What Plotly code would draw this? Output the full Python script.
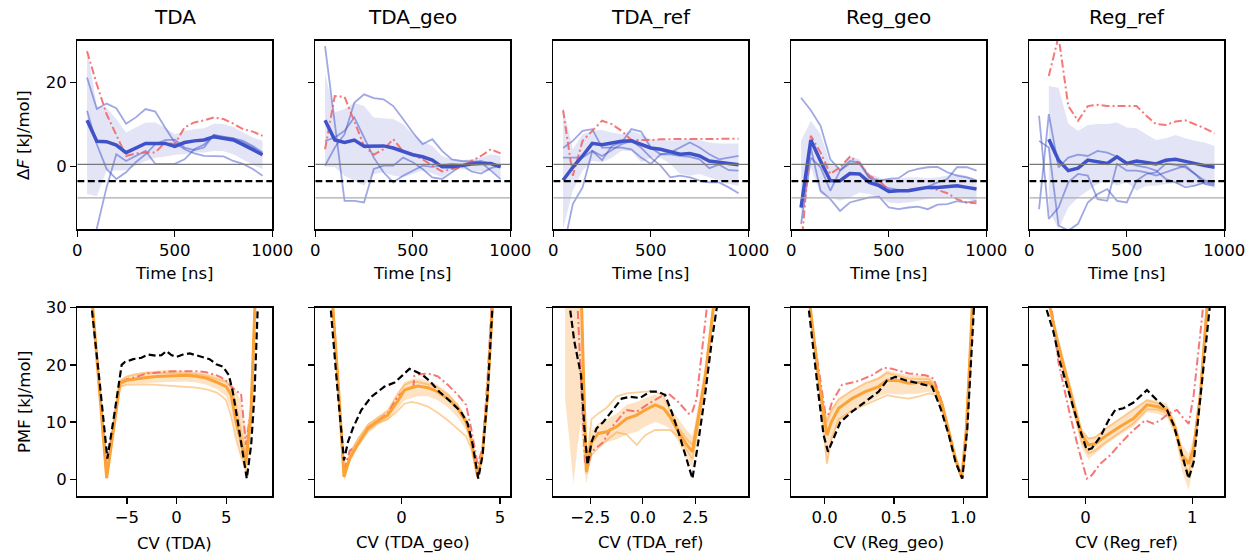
import plotly.graph_objects as go

# ---------------- data: top row (Delta F vs time) ----------------
TIME = [50, 100, 150, 200, 250, 300, 350, 400, 450, 500, 550, 600, 650, 700, 750, 800, 850, 900, 950]
DF_REF = -3.5
DF_TOL = 4.0

T1_MEAN = [11.0, 6.0, 5.9, 5.1, 3.3, 4.5, 5.5, 5.5, 5.5, 4.8, 5.7, 6.1, 6.3, 7.1, 6.7, 6.3, 5.2, 3.9, 2.8]
T1_UP = [28.3, 14.4, 14.0, 11.3, 8.1, 9.3, 10.5, 10.5, 9.3, 7.7, 8.5, 8.9, 9.1, 10.2, 10.1, 9.4, 8.1, 6.9, 6.1]
T1_LO = [-6.6, -7.1, -1.0, -1.0, -0.9, 0.2, 1.3, 2.1, 2.3, 2.8, 2.9, 3.3, 3.3, 3.7, 3.6, 2.9, 1.7, 0.4, -0.6]
T1_A = [21.2, 13.7, 15.0, 13.9, 10.2, 11.7, 13.7, 13.1, 9.3, 5.7, 4.1, 3.1, 2.5, 2.5, 2.4, 1.3, 0.6, -0.6, -2.2]
T1_B = [13.3, 5.3, -0.6, -3.0, -1.4, 1.0, 2.9, 5.3, 6.3, 6.4, 4.5, 3.9, 4.5, 7.5, 6.9, 6.7, 5.7, 4.5, 2.9]
T1_C = [-30.0, -14.8, -5.0, 2.9, 1.3, 2.5, 3.7, 0.6, 0.6, 0.6, 1.7, 4.1, 5.2, 7.5, 7.1, 6.7, 6.1, 4.9, 3.3]
T1_RED = [27.5, 19.6, 12.5, 7.7, 2.5, 3.1, 3.3, 3.3, 5.7, 5.3, 9.3, 10.5, 11.0, 11.7, 11.3, 10.2, 8.9, 8.3, 7.3]

T2_MEAN = [11.0, 6.3, 5.7, 6.3, 4.8, 4.8, 4.9, 4.4, 3.6, 2.8, 2.3, 1.5, -0.1, -0.1, 0.2, 0.6, 0.7, 0.7, -0.1]
T2_UP = [22.0, 12.9, 13.7, 15.2, 14.4, 11.7, 11.5, 11.3, 10.1, 7.7, 6.0, 4.9, 2.5, 1.7, 1.5, 1.7, 2.1, 2.9, 2.5]
T2_LO = [-0.1, -0.2, -2.2, -3.4, -4.6, -1.8, -1.4, -2.2, -2.6, -1.8, -0.9, -1.7, -2.5, -1.0, -0.6, -1.0, -1.2, -1.0, -2.5]
T2_A = [28.7, 10.5, -8.2, -8.2, -8.6, -0.6, 0.2, 0.2, 2.1, 1.0, -0.6, -2.6, -3.0, -1.4, 0.2, 1.0, 1.3, 0.6, -0.2]
T2_B = [0.2, 4.5, 7.7, 15.2, 17.2, 16.3, 16.0, 14.4, 11.3, 8.1, 5.3, 6.5, 3.7, 1.7, 1.3, 1.2, 1.0, -1.0, -3.0]
T2_C = [6.1, 6.9, 8.5, 11.7, 6.9, 2.1, -1.4, -3.8, -2.2, -0.9, 0.2, -0.1, 0.2, 0.6, 0.4, -1.2, -1.7, -0.4, 0.2]
T2_RED = [4.1, 16.8, 16.6, 10.5, 4.9, 2.8, 4.1, 6.5, 3.6, 2.8, 1.7, 0.2, -1.2, -0.6, -0.2, 1.3, 2.5, 4.1, 3.1]

T3_MEAN = [-3.3, -0.2, 2.5, 5.5, 5.2, 5.7, 6.0, 6.1, 5.2, 4.4, 4.1, 3.6, 2.9, 3.1, 2.5, 1.3, 1.0, 0.7, 0.4]
T3_UP = [14.4, 4.1, 7.7, 8.5, 8.7, 8.1, 7.7, 8.5, 7.7, 6.5, 6.3, 6.1, 6.3, 6.5, 6.3, 5.7, 5.5, 5.5, 5.5]
T3_LO = [-14.9, -5.8, -1.0, 1.3, 1.0, 2.1, 3.7, 3.7, 1.0, 2.1, 2.1, 0.6, -1.8, -2.2, -1.8, -2.6, -3.4, -4.2, -4.6]
T3_A = [4.4, 6.1, 8.5, 8.9, 4.5, 4.5, 4.5, 4.1, 2.1, 0.6, 2.9, 3.3, 4.5, 5.7, 4.5, 2.9, 1.7, 2.1, 2.5]
T3_B = [2.1, 2.1, 2.1, 3.7, 1.5, 4.9, 5.7, 8.9, 8.3, 4.5, 2.9, 2.9, 2.5, 2.3, 1.7, -0.4, 0.4, -0.9, -1.0]
T3_C = [-20.0, -9.0, -5.0, 3.7, 2.5, 4.0, 5.3, 6.1, 4.5, 2.1, 0.2, -2.6, -2.2, -2.6, -3.4, -3.8, -3.8, -5.0, -6.4]
T3_RED = [13.4, -2.2, 6.1, 8.5, 10.9, 10.1, 8.5, 6.3, 6.3, 6.3, 6.5, 6.5, 6.5, 6.6, 6.6, 6.6, 6.6, 6.6, 6.6]

T4_MEAN = [-9.8, 6.3, 1.3, -3.4, -3.4, -1.7, -1.8, -3.8, -4.6, -6.0, -5.8, -5.8, -5.4, -5.0, -5.0, -4.8, -4.6, -5.0, -5.4]
T4_UP = [6.1, 10.9, 7.7, 0.6, -0.2, 2.5, 1.7, -1.8, -2.6, -3.4, -3.0, -2.6, -2.6, -2.8, -2.6, -2.2, -1.8, -2.2, -3.0]
T4_LO = [-14.9, -0.2, -6.6, -7.4, -8.2, -7.4, -6.2, -6.6, -7.4, -8.6, -8.8, -8.6, -8.2, -7.8, -7.4, -7.5, -7.4, -7.8, -8.2]
T4_A = [16.4, 13.4, 9.7, 1.7, -0.9, 1.3, 1.0, -2.6, -3.4, -3.0, -2.8, -1.2, -0.6, -0.2, -0.1, -1.4, -2.2, -2.6, -3.4]
T4_B = [-9.8, 4.5, -5.8, -7.8, -10.6, -8.6, -8.0, -7.4, -7.2, -9.8, -10.2, -9.8, -9.6, -10.2, -9.1, -9.0, -8.3, -8.6, -8.2]
T4_C = [-13.7, 2.1, -0.2, -5.8, -1.0, 0.7, 0.7, -2.8, -4.2, -5.2, -5.6, -5.6, -5.4, -4.8, -3.8, -3.0, -0.2, -0.2, -1.0]
T4_RED = [-20.0, 7.3, 3.3, -1.8, -0.2, 2.3, 0.7, -2.2, -3.4, -5.6, -5.6, -5.6, -5.4, -5.0, -5.6, -6.4, -7.8, -8.6, -8.8]

T5_MEAN = [None, 6.5, 1.5, -1.0, -0.4, 1.5, 1.0, 0.7, 2.3, 0.7, 1.3, 1.0, 0.6, 1.5, 1.7, 1.2, 0.6, 0.2, -0.2]
T5_UP = [None, 19.2, 18.8, 10.2, 8.5, 9.9, 10.1, 10.1, 10.5, 9.3, 9.1, 7.7, 6.3, 6.7, 7.5, 6.7, 6.1, 5.7, 4.9]
T5_LO = [None, -10.6, -14.9, -9.8, -7.4, -5.8, -4.2, -3.4, -4.6, -3.8, -5.8, -4.6, -4.6, -4.2, -4.0, -4.6, -4.6, -4.2, -5.2]
T5_A = [-10.2, 12.5, -0.2, 2.1, 2.8, 2.5, 3.7, 3.3, 2.3, 1.0, 0.2, -0.2, -1.0, -3.0, -3.8, -5.0, -4.6, -3.8, -4.2]
T5_B = [12.1, -12.5, -9.8, -3.8, -1.8, -2.2, -7.8, -8.2, 0.6, -1.0, -1.0, -1.4, -2.2, -1.4, -0.6, 0.2, -1.8, -4.2, -4.6]
T5_C = [6.1, 4.5, -14.1, -15.3, -13.7, -8.6, -6.6, -5.4, -8.2, -8.6, -3.4, -1.8, -1.4, 0.7, 0.4, -0.2, -1.8, -3.4, -3.8]
T5_RED = [None, 21.6, 31.0, 14.4, 10.9, 14.4, 14.7, 14.4, 14.4, 14.4, 14.4, 12.1, 10.1, 9.9, 10.7, 11.0, 10.1, 9.1, 7.9]

# ---------------- data: bottom row (PMF vs CV) ----------------
REF1_X = [-8.7, -8.55, -7.75, -6.97, -6.3, -5.53, -5.2, -4.37, -3.53, -2.86, -2.02, -1.52, -1.02, -0.52, -0.01, 0.65, 1.33, 2.0, 2.66, 3.33, 4.0, 4.67, 5.27, 5.67, 6.18, 6.68, 7.08, 7.52, 7.85, 8.18, 8.35]
REF1_Y = [35, 30, 17, 3.6, 11, 20.0, 20.5, 21.0, 21.25, 21.8, 21.6, 21.7, 22.4, 21.7, 21.4, 21.8, 22.0, 21.7, 21.4, 21.0, 20.1, 19.7, 18.2, 15.3, 10.0, 4.8, 0.1, 6.0, 14.7, 29.9, 35]
CV1 = [-8.6, -8.45, -8.0, -7.5, -7.04, -6.5, -6.0, -5.7, -5.03, -4.03, -3.0, -2.0, -1.0, 0.0, 1.0, 2.0, 3.0, 4.0, 4.5, 5.0, 5.5, 6.0, 6.5, 7.0, 7.5, 7.85, 8.0]
MEAN1 = [35, 30, 20.5, 10.2, 0.2, 6.8, 13.2, 16.75, 17.3, 17.6, 17.8, 17.95, 18.05, 18.15, 18.2, 18.0, 17.7, 17.0, 16.6, 16.2, 14.8, 10.0, 6.5, 3.0, 11.5, 29.9, 35]
UP1 = [35, 31, 21.5, 11.5, 1.0, 7.8, 14.2, 17.3, 18.0, 18.5, 18.9, 19.0, 19.1, 19.05, 18.95, 18.8, 18.5, 18.2, 17.8, 17.3, 16.5, 15.5, 13.5, 8.0, 14.0, 31, 35]
LO1 = [35, 29, 19.5, 9.0, -0.3, 5.8, 12.2, 16.0, 16.6, 16.8, 16.8, 16.9, 17.0, 17.1, 17.1, 16.9, 16.5, 15.8, 15.2, 14.5, 12.0, 7.5, 4.5, 1.0, 9.0, 29, 35]
REP1A = [35, 30, 20.5, 10.2, 0.3, 6.8, 13.0, 16.2, 16.5, 16.6, 16.6, 16.5, 16.4, 16.3, 16.2, 16.0, 15.7, 15.2, 14.6, 13.8, 11.0, 7.0, 4.0, 1.5, 10.0, 30, 35]
REP1B = [35, 30, 20.5, 10.2, 0.3, 7.0, 13.5, 17.2, 18.0, 18.4, 18.6, 18.6, 18.6, 18.6, 18.5, 18.4, 18.1, 17.6, 17.3, 17.0, 16.0, 13.0, 8.5, 4.5, 12.0, 30, 35]
RED1 = [35, 30, 21, 11, 2.5, 8.0, 14.0, 16.9, 17.5, 17.9, 18.5, 18.7, 18.8, 18.9, 18.9, 18.9, 18.7, 18.2, 17.8, 17.2, 16.3, 15.4, 15.0, 6.0, 12.0, 30, 35]

REF2_X = [-3.7, -3.61, -3.27, -2.93, -2.73, -2.48, -2.05, -1.54, -0.87, -0.36, 0.06, 0.40, 0.74, 1.08, 1.42, 1.92, 2.51, 3.02, 3.36, 3.62, 3.90, 4.12, 4.37, 4.63, 4.7]
REF2_Y = [35, 30, 16, 3.3, 6.5, 8.9, 12.1, 14.4, 16.2, 16.9, 18.2, 19.3, 18.8, 18.2, 17.2, 15.3, 13.5, 11.8, 9.75, 6.0, 0.1, 4.2, 14.7, 29.9, 35]
CV2 = [-3.6, -3.49, -3.2, -2.93, -2.64, -2.22, -1.71, -1.2, -0.70, -0.19, 0.15, 0.49, 0.83, 1.34, 1.84, 2.35, 2.85, 3.28, 3.53, 3.87, 4.12, 4.37, 4.6, 4.7]
MEAN2 = [35, 30, 15.5, 0.4, 3.6, 6.2, 8.9, 10.2, 11.2, 13.7, 15.6, 16.0, 16.3, 16.0, 15.3, 14.1, 12.4, 10.0, 7.1, 0.4, 4.8, 14.7, 29.9, 35]
UP2 = [35, 31, 16.5, 1.0, 4.8, 7.3, 9.8, 10.9, 12.0, 15.0, 17.0, 17.5, 17.6, 17.2, 16.5, 15.2, 13.2, 10.6, 7.8, 1.0, 5.5, 15.5, 31, 35]
LO2 = [35, 29, 14.5, -0.3, 2.8, 5.5, 8.0, 9.5, 10.4, 12.3, 13.8, 14.2, 14.5, 14.5, 13.8, 12.6, 10.8, 8.5, 5.8, -0.2, 4.0, 14.0, 29, 35]
REP2A = [35, 30, 15.5, 0.4, 3.5, 6.0, 8.5, 9.8, 10.5, 12.0, 13.2, 13.5, 13.3, 12.7, 11.6, 10.3, 8.8, 7.5, 5.5, 0.4, 4.8, 14.7, 30, 35]
REP2B = [35, 30, 15.5, 0.4, 4.5, 7.0, 9.5, 10.8, 12.0, 15.0, 16.5, 17.0, 17.0, 16.6, 16.0, 14.8, 13.0, 10.5, 7.5, 0.4, 4.8, 14.7, 30, 35]
RED2_X = [-3.6, -3.49, -2.93, -2.64, -2.22, -1.71, -1.2, -0.70, -0.19, 0.15, 0.49, 0.60, 0.65, 0.83, 1.34, 1.84, 2.35, 2.85, 3.28, 3.53, 3.87, 4.12, 4.37, 4.55, 4.65]
RED2_Y = [35, 30, 1.5, 5.0, 6.0, 9.0, 10.3, 11.5, 14.5, 15.5, 16.0, 16.2, 18.1, 18.3, 18.5, 18.0, 16.5, 14.8, 13.0, 9.0, 2.5, 5.5, 17.5, 30, 35]

REF3_X = [-3.55, -3.47, -3.26, -3.07, -2.94, -2.78, -2.63, -2.44, -2.2, -1.88, -1.48, -1.0, -0.61, -0.13, 0.34, 0.74, 1.06, 1.37, 1.69, 2.01, 2.36, 2.64, 2.96, 3.28, 3.52, 3.6]
REF3_Y = [35, 30, 24.1, 20.5, 18.2, 8.9, 2.5, 6.5, 8.9, 10.0, 11.8, 14.1, 14.4, 14.2, 15.3, 15.3, 14.7, 11.8, 8.3, 4.2, 0.1, 6.5, 14.7, 24.1, 30, 35]
CV3 = [-3.0, -2.91, -2.8, -2.68, -2.44, -2.12, -1.72, -1.24, -0.77, -0.29, 0.11, 0.59, 0.98, 1.3, 1.69, 2.09, 2.36, 2.64, 2.96, 3.36, 3.45]
MEAN3 = [35, 30, 15, 1.3, 6.5, 8.0, 8.3, 9.2, 10.6, 11.2, 12.1, 13.0, 12.4, 10.9, 8.3, 6.0, 4.8, 10.6, 17.6, 30, 35]
BAND3_X = [-3.7, -3.5, -3.3, -3.1, -2.95, -2.8, -2.68, -2.44, -2.12, -1.72, -1.24, -0.77, -0.29, 0.11, 0.59, 0.98, 1.3, 1.69, 2.09, 2.36, 2.64, 2.96, 3.36, 3.45]
UP3 = [30, 30, 30, 30, 30, 20, 4.0, 8.5, 9.8, 10.5, 11.5, 13.0, 13.5, 14.2, 14.8, 14.2, 12.5, 10.5, 8.5, 7.5, 13.0, 20.0, 32, 35]
LO3 = [14, 7, -0.8, 6, 10, 2, -0.8, 4.5, 6.0, 6.5, 7.0, 7.8, 8.3, 9.2, 10.0, 9.5, 8.8, 6.5, 3.5, 2.0, 8.0, 15.0, 28, 35]
REP3A = [35, 30, 15, 2.5, 10.5, 11.5, 12.5, 14.5, 15.0, 15.2, 15.3, 15.3, 14.5, 12.0, 9.0, 7.0, 6.0, 11.0, 18.0, 30, 35]
REP3B = [35, 30, 15, 1.0, 4.2, 5.5, 6.8, 8.2, 7.8, 6.0, 7.7, 8.6, 8.6, 8.6, 7.5, 5.0, 3.5, 9.5, 17.0, 30, 35]
RED3_X = [-3.2, -3.1, -2.9, -2.75, -2.6, -2.44, -1.88, -1.5, -0.8, -0.29, 0.27, 0.83, 1.22, 1.69, 2.17, 2.33, 2.56, 2.88, 3.12, 3.2]
RED3_Y = [35, 30, 14, 3, 2.5, 4.8, 6.5, 9.0, 12.1, 11.8, 13.2, 14.4, 15.0, 13.5, 11.5, 11.5, 14.1, 23.5, 30, 35]

REF4_X = [-0.13, -0.115, -0.043, -0.007, 0.025, 0.054, 0.114, 0.198, 0.295, 0.39, 0.451, 0.511, 0.584, 0.656, 0.728, 0.776, 0.837, 0.897, 0.945, 0.994, 1.03, 1.054, 1.078, 1.09]
REF4_Y = [35, 30, 14.7, 7.7, 4.8, 6.5, 10.0, 11.8, 13.5, 15.3, 17.3, 17.9, 17.3, 16.9, 16.5, 16.2, 12.4, 7.7, 3.0, 0.1, 8.9, 20.5, 30, 35]
CV4 = [-0.115, -0.103, -0.043, -0.007, 0.017, 0.049, 0.102, 0.198, 0.295, 0.39, 0.451, 0.535, 0.608, 0.68, 0.752, 0.8, 0.849, 0.897, 0.945, 0.99, 1.023, 1.047, 1.066, 1.075]
MEAN4 = [35, 30, 17.6, 11.8, 7.7, 10.0, 12.4, 14.1, 15.3, 16.2, 17.3, 17.2, 16.8, 16.9, 16.9, 15.9, 13.0, 8.3, 3.6, 0.2, 8.9, 20.5, 30, 35]
UP4 = [35, 31, 19.0, 13.0, 11.0, 12.5, 14.0, 15.6, 16.8, 17.9, 19.0, 18.6, 18.2, 18.2, 18.2, 16.8, 13.8, 9.0, 4.2, 0.6, 10, 22, 31, 35]
LO4 = [35, 29, 16.0, 9.0, 2.7, 6.5, 10.0, 11.8, 13.3, 14.4, 15.0, 14.8, 14.9, 15.0, 15.3, 14.8, 12.0, 7.5, 3.0, -0.2, 8, 19, 29, 35]
REP4A = [35, 30, 17, 9, 2.7, 7.0, 10.5, 12.0, 13.0, 14.0, 14.7, 14.3, 14.1, 14.5, 15.0, 14.8, 12.0, 7.5, 3.0, 0.2, 8.9, 20.5, 30, 35]
REP4B = [35, 30, 18.5, 12.5, 10.0, 12.0, 14.0, 15.5, 16.8, 17.6, 18.6, 18.0, 17.6, 17.5, 17.5, 16.5, 13.5, 8.5, 3.8, 0.3, 9, 21, 30, 35]
RED4_X = [-0.12, -0.11, -0.043, 0.005, 0.025, 0.054, 0.126, 0.247, 0.343, 0.427, 0.487, 0.608, 0.728, 0.788, 0.837, 0.897, 0.945, 0.994, 1.03, 1.054, 1.072, 1.08]
RED4_Y = [35, 30, 19.4, 11.5, 11.2, 13.5, 16.5, 17.2, 18.2, 19.5, 19.3, 18.5, 18.2, 17.6, 14.1, 8.3, 3.2, 0.2, 8.9, 20.5, 30, 35]

REF5_X = [-0.365, -0.327, -0.302, -0.24, -0.146, -0.068, 0.011, 0.058, 0.137, 0.215, 0.277, 0.355, 0.449, 0.528, 0.575, 0.622, 0.7, 0.763, 0.825, 0.888, 0.966, 1.013, 1.075, 1.122, 1.163, 1.17]
REF5_Y = [29.6, 27.3, 25.8, 20.5, 14.7, 9.5, 5.1, 5.4, 7.4, 10.3, 12.1, 12.4, 13.4, 14.7, 15.6, 14.7, 13.3, 12.1, 9.5, 5.4, 0.1, 3.0, 14.7, 23.5, 30, 35]
CV5 = [-0.36, -0.333, -0.271, -0.177, -0.099, -0.036, 0.027, 0.089, 0.199, 0.324, 0.449, 0.575, 0.668, 0.763, 0.84, 0.903, 0.966, 1.013, 1.075, 1.138, 1.15]
MEAN5 = [35, 30, 24.6, 17.6, 11.8, 7.7, 6.0, 6.2, 7.7, 9.2, 10.6, 13.0, 12.7, 12.1, 8.9, 4.2, 2.7, 5.4, 14.7, 29.9, 35]
UP5 = [35, 31, 26, 19, 13.5, 9.0, 7.3, 7.5, 9.0, 10.6, 12.2, 14.0, 13.8, 13.2, 10.2, 6.0, 4.5, 7.5, 16.5, 31, 35]
LO5 = [35, 29, 23, 16, 10, 5.5, 3.5, 4.5, 6.2, 7.8, 9.2, 11.7, 11.5, 10.8, 7.5, 1.5, -1.9, 2.5, 12.5, 29, 35]
REP5A = [35, 30, 25, 18.5, 13.0, 8.3, 7.1, 7.3, 9.0, 10.6, 12.2, 13.8, 13.3, 12.5, 9.2, 4.5, 3.0, 5.5, 15, 30, 35]
REP5B = [35, 30, 24, 16.8, 10.8, 6.5, 4.5, 5.0, 6.6, 8.2, 9.8, 12.2, 12.2, 11.6, 8.5, 3.5, 1.0, 4.5, 14, 30, 35]
RED5_X = [-0.36, -0.32, -0.255, -0.146, -0.068, 0.011, 0.058, 0.137, 0.231, 0.324, 0.449, 0.559, 0.637, 0.7, 0.778, 0.856, 0.919, 0.966, 1.013, 1.06, 1.1, 1.11]
RED5_Y = [35, 30, 20.5, 11.2, 5.4, 0.1, 0.7, 2.7, 4.2, 6.2, 8.6, 10.3, 9.7, 10.3, 11.5, 12.1, 10.6, 9.7, 14.7, 22.3, 29.9, 35]

TITLES = ["TDA", "TDA_geo", "TDA_ref", "Reg_geo", "Reg_ref"]
CV_LABELS = ["CV (TDA)", "CV (TDA_geo)", "CV (TDA_ref)", "CV (Reg_geo)", "CV (Reg_ref)"]
CV_TICKVALS = [[-5, 0, 5], [0, 5], [-2.5, 0, 2.5], [0, 0.5, 1.0], [0, 1]]
CV_TICKTEXT = [["−5", "0", "5"], ["0", "5"], ["−2.5", "0.0", "2.5"], ["0.0", "0.5", "1.0"], ["0", "1"]]

TOP = [
    (T1_MEAN, T1_UP, T1_LO, [T1_A, T1_B, T1_C], T1_RED),
    (T2_MEAN, T2_UP, T2_LO, [T2_A, T2_B, T2_C], T2_RED),
    (T3_MEAN, T3_UP, T3_LO, [T3_A, T3_B, T3_C], T3_RED),
    (T4_MEAN, T4_UP, T4_LO, [T4_A, T4_B, T4_C], T4_RED),
    (T5_MEAN, T5_UP, T5_LO, [T5_A, T5_B, T5_C], T5_RED),
]
BOTTOM = [
    (REF1_X, REF1_Y, CV1, MEAN1, CV1, UP1, LO1, [REP1A, REP1B], CV1, RED1),
    (REF2_X, REF2_Y, CV2, MEAN2, CV2, UP2, LO2, [REP2A, REP2B], RED2_X, RED2_Y),
    (REF3_X, REF3_Y, CV3, MEAN3, BAND3_X, UP3, LO3, [REP3A, REP3B], RED3_X, RED3_Y),
    (REF4_X, REF4_Y, CV4, MEAN4, CV4, UP4, LO4, [REP4A, REP4B], RED4_X, RED4_Y),
    (REF5_X, REF5_Y, CV5, MEAN5, CV5, UP5, LO5, [REP5A, REP5B], RED5_X, RED5_Y),
]

# ---------------- styling / layout ----------------
W, H = 1252, 555
LEFTS = [77.3, 315.3, 553.3, 791.3, 1029.3]
PW = 195.0
TOP_Y = (40.7, 229.3)
BOT_Y = (307.7, 496.3)
CV_RANGES = [[-10.0, 9.65], [-4.39, 5.53], [-4.26, 5.02], [-0.24, 1.167], [-0.528, 1.30]]

BLUE = "rgb(64,82,200)"
BLUE_T = "rgba(64,82,200,0.5)"
BLUE_F = "rgba(64,82,200,0.15)"
RED = "rgba(245,95,95,0.85)"
ORANGE = "rgb(252,163,55)"
ORANGE_T = "rgba(252,163,55,0.5)"
ORANGE_F = "rgba(250,160,60,0.3)"
FONT = "DejaVu Sans"
TICK_FS = 16.5
LABEL_FS = 16.5
TITLE_FS = 20
REDDASH = "8px,3px,2px,3px"
BLACKDASH = "7px,3.5px"

fig = go.Figure()


def fx(px):
    return px / W


def fy(py):
    return 1 - py / H


def clean(xs, ys):
    pts = [(a, b) for a, b in zip(xs, ys) if b is not None]
    return [p[0] for p in pts], [p[1] for p in pts]


def add_band(xs, up, lo, xa, ya, color):
    x1, u1 = clean(xs, up)
    x2, l2 = clean(xs, lo)
    fig.add_trace(go.Scatter(x=x1 + x2[::-1], y=u1 + l2[::-1], fill="toself", fillcolor=color,
                             line=dict(width=0), mode="lines", hoverinfo="skip",
                             showlegend=False, xaxis=xa, yaxis=ya))


def add_line(xs, ys, xa, ya, color, width, dash="solid"):
    x1, y1 = clean(xs, ys)
    fig.add_trace(go.Scatter(x=x1, y=y1, mode="lines", line=dict(color=color, width=width, dash=dash),
                             showlegend=False, hoverinfo="skip", xaxis=xa, yaxis=ya))


axis_common = dict(showline=True, linecolor="black", linewidth=1.3, mirror=True, ticks="outside",
                   ticklen=6, tickwidth=1.3, tickcolor="black", showgrid=False, zeroline=False,
                   tickfont=dict(family=FONT, size=TICK_FS, color="black"))

layout_axes = {}
annotations = []
for i in range(5):
    # top row
    k = i + 1
    xa, ya = ("x" if k == 1 else f"x{k}"), ("y" if k == 1 else f"y{k}")
    xname, yname = ("xaxis" if k == 1 else f"xaxis{k}"), ("yaxis" if k == 1 else f"yaxis{k}")
    layout_axes[xname] = dict(axis_common, domain=[fx(LEFTS[i]), fx(LEFTS[i] + PW)], range=[0, 1000],
                              tickvals=[0, 500, 1000], anchor=ya)
    layout_axes[yname] = dict(axis_common, domain=[fy(TOP_Y[1]), fy(TOP_Y[0])], range=[-15, 30],
                              tickvals=[0, 20], showticklabels=(i == 0), anchor=xa)
    mean, up, lo, reps, red = TOP[i]
    add_band(TIME, up, lo, xa, ya, BLUE_F)
    for r in reps:
        add_line(TIME, r, xa, ya, BLUE_T, 1.8)
    add_line(TIME, red, xa, ya, RED, 2, REDDASH)
    add_line(TIME, mean, xa, ya, BLUE, 3.5)
    add_line([0, 1000], [DF_REF + DF_TOL, DF_REF + DF_TOL], xa, ya, "rgb(120,120,120)", 1.1)
    add_line([0, 1000], [DF_REF - DF_TOL, DF_REF - DF_TOL], xa, ya, "rgb(170,170,170)", 1.1)
    add_line([0, 1000], [DF_REF, DF_REF], xa, ya, "black", 2.2, BLACKDASH)

    # bottom row
    k = i + 6
    xa, ya = f"x{k}", f"y{k}"
    xname, yname = f"xaxis{k}", f"yaxis{k}"
    layout_axes[xname] = dict(axis_common, domain=[fx(LEFTS[i]), fx(LEFTS[i] + PW)], range=CV_RANGES[i],
                              tickvals=CV_TICKVALS[i], ticktext=CV_TICKTEXT[i], anchor=ya)
    layout_axes[yname] = dict(axis_common, domain=[fy(BOT_Y[1]), fy(BOT_Y[0])], range=[-3, 30],
                              tickvals=[0, 10, 20, 30], showticklabels=(i == 0), anchor=xa)
    refx, refy, cvx, mean, bx, up, lo, reps, redx, redy = BOTTOM[i]
    add_band(bx, up, lo, xa, ya, ORANGE_F)
    for r in reps:
        add_line(cvx, r, xa, ya, ORANGE_T, 1.8)
    add_line(redx, redy, xa, ya, RED, 2, REDDASH)
    add_line(cvx, mean, xa, ya, ORANGE, 3)
    add_line(refx, refy, xa, ya, "black", 2.2, BLACKDASH)

    cx = fx(LEFTS[i] + PW / 2)
    annotations.append(dict(text=TITLES[i], x=cx, y=fy(17), xref="paper", yref="paper", showarrow=False,
                            xanchor="center", yanchor="middle", font=dict(family=FONT, size=TITLE_FS, color="black")))
    annotations.append(dict(text="Time [ns]", x=cx, y=fy(273), xref="paper", yref="paper", showarrow=False,
                            xanchor="center", yanchor="middle", font=dict(family=FONT, size=LABEL_FS, color="black")))
    annotations.append(dict(text=CV_LABELS[i], x=cx, y=fy(543), xref="paper", yref="paper", showarrow=False,
                            xanchor="center", yanchor="middle", font=dict(family=FONT, size=LABEL_FS, color="black")))

annotations.append(dict(text="Δ<i>F</i> [kJ/mol]", x=fx(24), y=fy((TOP_Y[0] + TOP_Y[1]) / 2), xref="paper",
                        yref="paper", showarrow=False, textangle=-90, xanchor="center", yanchor="middle",
                        font=dict(family=FONT, size=LABEL_FS, color="black")))
annotations.append(dict(text="PMF [kJ/mol]", x=fx(24), y=fy((BOT_Y[0] + BOT_Y[1]) / 2), xref="paper",
                        yref="paper", showarrow=False, textangle=-90, xanchor="center", yanchor="middle",
                        font=dict(family=FONT, size=LABEL_FS, color="black")))

fig.update_layout(width=W, height=H, margin=dict(l=0, r=0, t=0, b=0, autoexpand=False), paper_bgcolor="white",
                  plot_bgcolor="white", showlegend=False, annotations=annotations, hovermode=False,
                  font=dict(family=FONT, size=TICK_FS, color="black"), **layout_axes)

fig.write_html("out.html", config={"displayModeBar": False, "staticPlot": True},
               post_script="document.body.style.margin='0px';document.body.style.overflow='hidden';"
                           "document.documentElement.style.overflow='hidden';")
